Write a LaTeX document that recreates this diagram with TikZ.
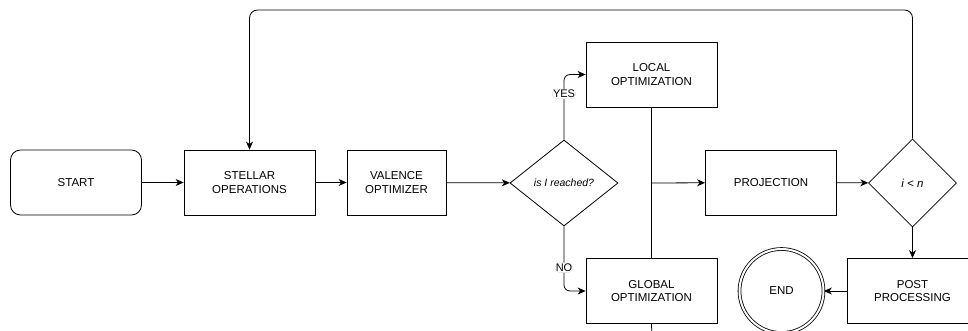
\documentclass[tikz,border=0pt]{standalone}
\usepackage{fontspec}
\setmainfont{Liberation Sans}
\usetikzlibrary{arrows.meta,shapes.geometric}
\begin{document}
\begin{tikzpicture}[x=1pt,y=-1pt,
  every node/.style={font=\fontsize{11.5}{13.5}\selectfont, align=center, inner sep=0pt},
  box/.style={draw, line width=0.8pt, minimum width=131pt, minimum height=65pt},
  rbox/.style={box, rounded corners=10pt},
  dia/.style={draw, line width=0.8pt, diamond, aspect=1},
  conn/.style={line width=0.8pt, -{Stealth[length=8pt,width=7pt,inset=2.5pt]}},
  lab/.style={fill=white, draw=black!15, line width=0.4pt, font=\fontsize{11}{12}\selectfont, inner sep=1pt}]
\useasboundingbox (0,0) rectangle (968,331);
\node[rbox] (start) at (76,182.5) {START};
\node[box] (stellar) at (249.5,182.5) {STELLAR\\OPERATIONS};
\node[box, minimum width=99pt] (valence) at (396.5,182.5) {VALENCE\\OPTIMIZER};
\node[dia, minimum width=108pt, minimum height=86pt] (reach) at (564,183) {\itshape\fontsize{10.5}{12}\selectfont is I reached?};
\node[box] (local) at (651.5,74.5) {LOCAL\\OPTIMIZATION};
\node[box] (global) at (651.5,291) {GLOBAL\\OPTIMIZATION};
\node[box] (proj) at (771,182.5) {PROJECTION};
\node[dia, minimum width=88pt, minimum height=88pt] (cond) at (912.5,183) {\itshape i < n};
\node[box] (post) at (912.5,291) {POST\\PROCESSING};
\node[draw, circle, double, double distance=2pt, line width=0.8pt, minimum size=84pt] (end) at (781.5,291) {END};
\coordinate (junc) at (652,183);
\coordinate (gbot) at (652,340);

\draw[conn] (start) -- (stellar);
\draw[conn] (stellar) -- (valence);
\draw[conn] (valence) -- (reach);
\draw[conn, rounded corners=6pt] (reach.north) |- node[lab, pos=0.35] {YES} (local.west);
\draw[conn, rounded corners=6pt] (reach.south) |- node[lab, pos=0.32] {NO} (global.west);
\draw[line width=0.8pt] (local.south) -- (global.north);
\draw[line width=0.8pt] (global.south) -- (gbot);
\draw[conn] (junc) -- (proj);
\draw[conn] (proj) -- (cond);
\draw[conn] (cond) -- (post);
\draw[conn] (post) -- (end);
\draw[conn, rounded corners=8pt] (cond.north) |- (560,10) -| (stellar.north);
\end{tikzpicture}
\end{document}
